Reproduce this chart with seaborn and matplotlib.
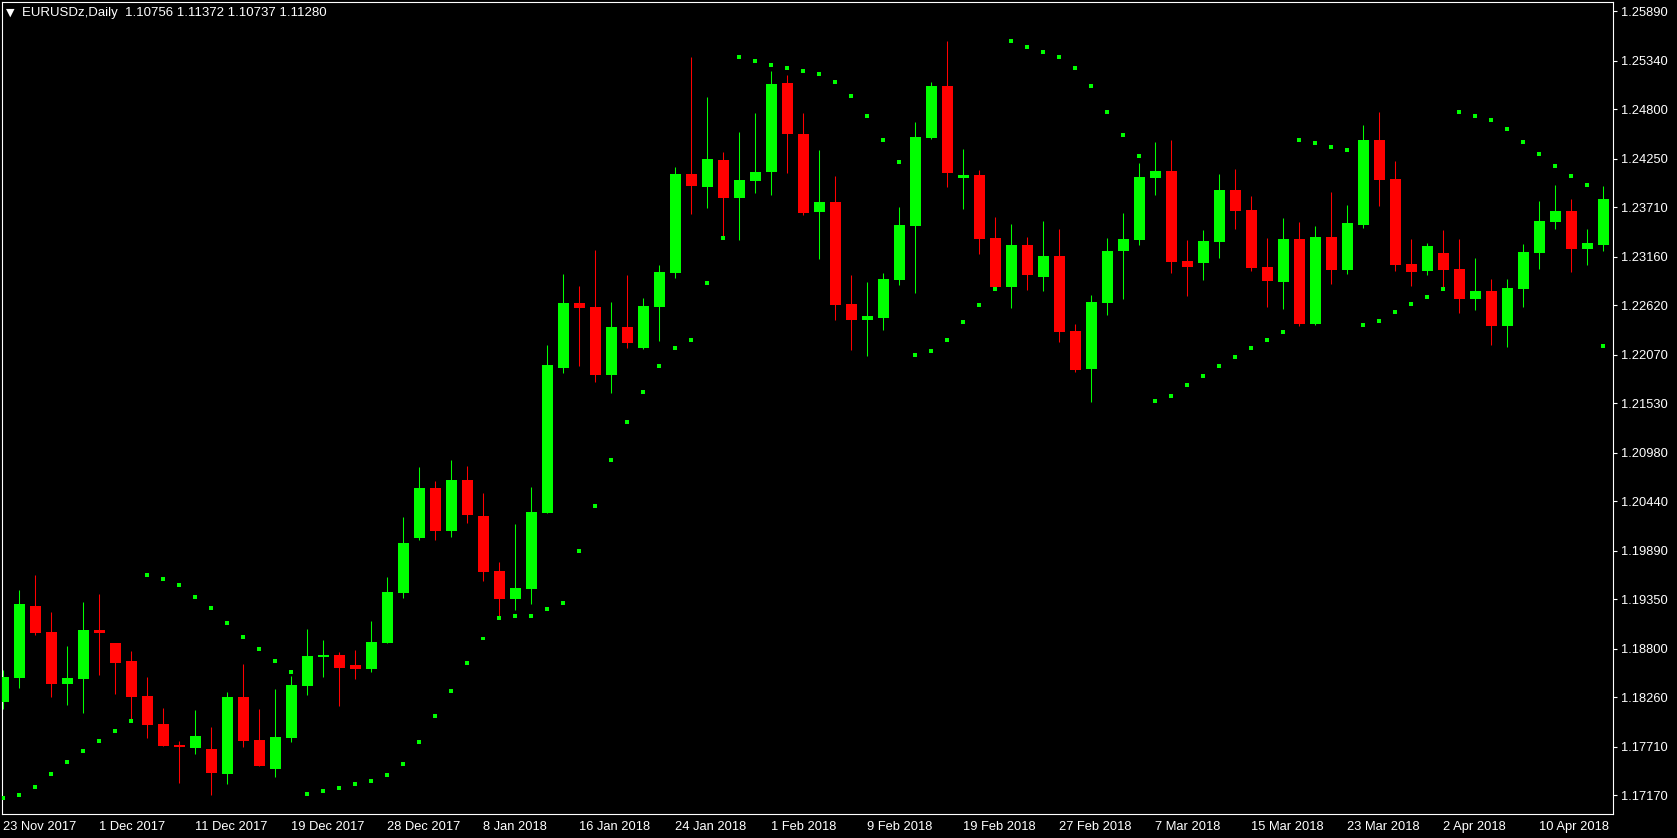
import numpy as np
import matplotlib
matplotlib.use("Agg")
import matplotlib.pyplot as plt
import seaborn as sns

# EURUSDz daily candles, 23 Nov 2017 - 13 Apr 2018
opens = [1.18209, 1.18476, 1.19276, 1.18987, 1.18409, 1.18465, 1.19009, 1.18865, 1.18665, 1.18275,
         1.17964, 1.17730, 1.17696, 1.17685, 1.17407, 1.18264, 1.17785, 1.17463, 1.17808, 1.18387,
         1.18709, 1.18731, 1.18620, 1.18576, 1.18865, 1.19421, 1.20033, 1.20589, 1.20110, 1.20677,
         1.20277, 1.19665, 1.19354, 1.19465, 1.20310, 1.21923, 1.22646, 1.22601, 1.21845, 1.22379,
         1.22145, 1.22601, 1.22980, 1.24081, 1.23936, 1.24236, 1.23814, 1.24003, 1.24103, 1.25093,
         1.24526, 1.23658, 1.23769, 1.22635, 1.22457, 1.22479, 1.22902, 1.23502, 1.24481, 1.25059,
         1.24036, 1.24070, 1.23369, 1.22824, 1.23291, 1.22935, 1.23169, 1.22334, 1.21912, 1.22646,
         1.23224, 1.23347, 1.24036, 1.24114, 1.23113, 1.23091, 1.23325, 1.23903, 1.23680, 1.23047,
         1.22880, 1.23358, 1.22412, 1.23380, 1.23013, 1.23514, 1.24459, 1.24025, 1.23080, 1.23002,
         1.23202, 1.23024, 1.22690, 1.22780, 1.22390, 1.22802, 1.23202, 1.23547, 1.23669, 1.23247,
         1.23291]
highs = [1.18565, 1.19454, 1.19621, 1.19210, 1.18831, 1.19321, 1.19410, 1.18865, 1.18776, 1.18487,
         1.18142, 1.17774, 1.18120, 1.17930, 1.18320, 1.18631, 1.18131, 1.18353, 1.18498, 1.19020,
         1.18898, 1.18765, 1.18787, 1.19109, 1.19599, 1.20266, 1.20822, 1.20666, 1.20900, 1.20833,
         1.20533, 1.19765, 1.20188, 1.20600, 1.22179, 1.22969, 1.22835, 1.23236, 1.22657, 1.22958,
         1.22702, 1.23069, 1.24159, 1.25382, 1.24937, 1.24325, 1.24548, 1.24759, 1.25226, 1.25182,
         1.24759, 1.24348, 1.24059, 1.22958, 1.22880, 1.22980, 1.23714, 1.24659, 1.25104, 1.25560,
         1.24359, 1.24125, 1.23603, 1.23525, 1.23380, 1.23558, 1.23469, 1.22412, 1.22735, 1.23369,
         1.23647, 1.24203, 1.24437, 1.24459, 1.23347, 1.23458, 1.24081, 1.24136, 1.23836, 1.23369,
         1.23591, 1.23547, 1.23502, 1.23880, 1.23736, 1.24626, 1.24770, 1.24225, 1.23358, 1.23313,
         1.23458, 1.23358, 1.23147, 1.22913, 1.22913, 1.23302, 1.23781, 1.23958, 1.23803, 1.23469,
         1.23947]
lows = [1.18131, 1.18364, 1.18954, 1.18264, 1.18175, 1.18086, 1.18509, 1.18298, 1.18009, 1.17808,
        1.17718, 1.17307, 1.17630, 1.17174, 1.17296, 1.17707, 1.17496, 1.17374, 1.17763, 1.18287,
        1.18487, 1.18164, 1.18465, 1.18542, 1.18865, 1.19365, 1.20010, 1.20010, 1.20044, 1.20199,
        1.19554, 1.19154, 1.19232, 1.19299, 1.20310, 1.21867, 1.21945, 1.21767, 1.21645, 1.22145,
        1.22134, 1.22223, 1.22924, 1.23636, 1.23703, 1.23358, 1.23347, 1.23869, 1.23847, 1.24092,
        1.23625, 1.23135, 1.22457, 1.22123, 1.22056, 1.22346, 1.22846, 1.22757, 1.24470, 1.23936,
        1.23692, 1.23191, 1.22824, 1.22590, 1.22791, 1.22780, 1.22212, 1.21878, 1.21545, 1.22513,
        1.22690, 1.23291, 1.23847, 1.22980, 1.22724, 1.22902, 1.23147, 1.23469, 1.23002, 1.22601,
        1.22579, 1.22390, 1.22401, 1.22857, 1.22969, 1.23480, 1.23725, 1.23002, 1.22835, 1.22958,
        1.22802, 1.22535, 1.22568, 1.22179, 1.22156, 1.22601, 1.23024, 1.23469, 1.22991, 1.23069,
        1.23224]
closes = [1.18487, 1.19299, 1.18976, 1.18409, 1.18476, 1.19009, 1.18976, 1.18642, 1.18264, 1.17953,
          1.17718, 1.17707, 1.17830, 1.17418, 1.18264, 1.17774, 1.17496, 1.17819, 1.18398, 1.18720,
          1.18731, 1.18587, 1.18576, 1.18876, 1.19432, 1.19977, 1.20589, 1.20110, 1.20677, 1.20288,
          1.19654, 1.19354, 1.19476, 1.20321, 1.21956, 1.22646, 1.22590, 1.21845, 1.22379, 1.22201,
          1.22613, 1.22991, 1.24081, 1.23947, 1.24248, 1.23814, 1.24014, 1.24103, 1.25082, 1.24526,
          1.23647, 1.23769, 1.22624, 1.22457, 1.22501, 1.22913, 1.23514, 1.24492, 1.25059, 1.24092,
          1.24070, 1.23358, 1.22824, 1.23291, 1.22958, 1.23169, 1.22323, 1.21901, 1.22657, 1.23224,
          1.23358, 1.24047, 1.24114, 1.23102, 1.23047, 1.23336, 1.23903, 1.23669, 1.23035, 1.22891,
          1.23358, 1.22412, 1.23380, 1.23013, 1.23536, 1.24459, 1.24014, 1.23069, 1.22991, 1.23280,
          1.23013, 1.22690, 1.22780, 1.22390, 1.22813, 1.23213, 1.23558, 1.23669, 1.23247, 1.23313,
          1.23803]
# Parabolic SAR dots
sar = [1.17140, 1.17170, 1.17259, 1.17403, 1.17537, 1.17659, 1.17771, 1.17882, 1.17994, 1.19618,
       1.19573, 1.19507, 1.19373, 1.19250, 1.19083, 1.18928, 1.18795, 1.18665, 1.18542, 1.17185,
       1.17218, 1.17252, 1.17296, 1.17329, 1.17396, 1.17523, 1.17761, 1.18058, 1.18332, 1.18641,
       1.18915, 1.19143, 1.19162, 1.19162, 1.19239, 1.19306, 1.19884, 1.20385, 1.20896, 1.21319,
       1.21653, 1.21942, 1.22142, 1.22231, 1.22865, 1.23366, 1.25379, 1.25334, 1.25290, 1.25256,
       1.25223, 1.25193, 1.25104, 1.24948, 1.24726, 1.24459, 1.24214, 1.22068, 1.22112, 1.22234,
       1.22435, 1.22620, 1.22798, 1.25557, 1.25490, 1.25434, 1.25379, 1.25256, 1.25056, 1.24767,
       1.24511, 1.24281, 1.21553, 1.21608, 1.21731, 1.21831, 1.21942, 1.22042, 1.22142, 1.22231,
       1.22320, 1.24456, 1.24422, 1.24378, 1.24344, 1.22398, 1.22443, 1.22543, 1.22632, 1.22709,
       1.22798, 1.24767, 1.24722, 1.24678, 1.24578, 1.24433, 1.24300, 1.24166, 1.24055, 1.23955,
       1.22164]

date_labels = ["23 Nov 2017", "1 Dec 2017", "11 Dec 2017", "19 Dec 2017", "28 Dec 2017",
               "8 Jan 2018", "16 Jan 2018", "24 Jan 2018", "1 Feb 2018", "9 Feb 2018",
               "19 Feb 2018", "27 Feb 2018", "7 Mar 2018", "15 Mar 2018", "23 Mar 2018",
               "2 Apr 2018", "10 Apr 2018"]
date_bars = list(range(0, 97, 6))
price_labels = ["1.25890", "1.25340", "1.24800", "1.24250", "1.23710", "1.23160", "1.22620",
                "1.22070", "1.21530", "1.20980", "1.20440", "1.19890", "1.19350", "1.18800",
                "1.18260", "1.17710", "1.17170"]
title = "EURUSDz,Daily  1.10756 1.11372 1.10737 1.11280"

sns.set_style("dark")
plt.rcParams['font.family'] = ['Liberation Sans', 'DejaVu Sans']

W, H = 1677, 838
fig = plt.figure(figsize=(W / 100, H / 100), dpi=100, facecolor='black')
ax = fig.add_axes([2 / W, (H - 814) / H, (1613 - 2) / W, (814 - 2) / H])
ax.set_facecolor('black')

bars = np.arange(len(opens))
o = np.array(opens)
c = np.array(closes)
up = c >= o
cols = np.where(up, '#00FF00', '#FF0000')

ax.vlines(bars, lows, highs, colors=cols, linewidth=0.75, zorder=2)
ax.bar(bars, np.maximum(np.abs(c - o), 0.00003), bottom=np.minimum(o, c), width=0.6875,
       color=cols, linewidth=0, zorder=3)
sns.scatterplot(x=bars, y=sar, marker='s', s=8, color='#00FF00', edgecolor='none',
                linewidth=0, ax=ax, legend=False, zorder=4)

ax.set_xlim(-0.08, 100.61)
ax.set_ylim(1.16963, 1.25994)

for sp in ax.spines.values():
    sp.set_color('white')
    sp.set_linewidth(0.8)

ax.yaxis.tick_right()
ax.set_yticks([float(v) for v in price_labels])
ax.set_yticklabels(price_labels)
ax.set_xticks(date_bars)
ax.set_xticklabels(date_labels, ha='left')
ax.tick_params(axis='both', colors='white', labelcolor='white', labelsize=9.3,
               direction='out', length=3, width=0.8)
ax.tick_params(axis='x', pad=2)
ax.tick_params(axis='y', pad=3, left=False, right=True)
ax.grid(False)
ax.set_xlabel('')
ax.set_ylabel('')

fig.text(10.7 / W, 1 - 12.5 / H, '\u25bc', color='white', fontsize=8,
         ha='center', va='center', family=['DejaVu Sans'])
fig.text(21.5 / W, 1 - 12.7 / H, title, color='white', fontsize=9.5, ha='left', va='center')

fig.savefig('out.png', dpi=100, facecolor='black')
